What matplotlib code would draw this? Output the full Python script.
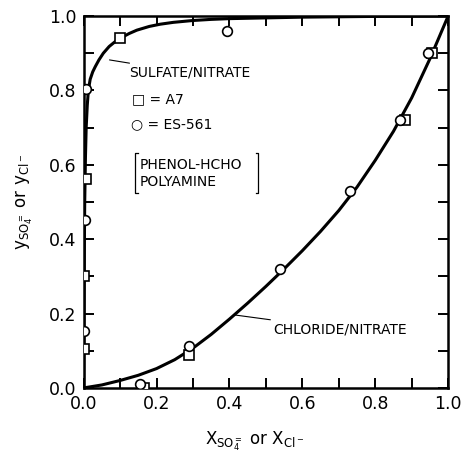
import matplotlib
matplotlib.use("Agg")
import matplotlib.pyplot as plt
from matplotlib.ticker import MultipleLocator

# --- data ---
# Sulfate/nitrate fitted curve
sulf_curve_x = [0.0, 0.001, 0.002, 0.003, 0.005, 0.007, 0.010, 0.013, 0.018, 0.025, 0.032, 0.042, 0.054, 0.07, 0.085, 0.10, 0.125, 0.146, 0.18, 0.21, 0.246, 0.30, 0.35, 0.40, 0.5, 0.6, 0.7, 0.8, 0.9, 1.0]
sulf_curve_y = [0.0, 0.20, 0.38, 0.50, 0.62, 0.70, 0.76, 0.80, 0.83, 0.85, 0.864, 0.882, 0.90, 0.918, 0.93, 0.94, 0.953, 0.962, 0.972, 0.978, 0.983, 0.988, 0.991, 0.993, 0.995, 0.997, 0.998, 0.999, 0.9995, 1.0]
# Chloride/nitrate fitted curve
chl_curve_x = [0.0, 0.05, 0.1, 0.15, 0.2, 0.25, 0.3, 0.35, 0.4, 0.45, 0.5, 0.55, 0.6, 0.65, 0.7, 0.75, 0.8, 0.85, 0.9, 0.95, 1.0]
chl_curve_y = [0.0, 0.008, 0.020, 0.034, 0.052, 0.076, 0.107, 0.144, 0.185, 0.228, 0.273, 0.320, 0.369, 0.421, 0.477, 0.540, 0.612, 0.690, 0.780, 0.885, 1.0]

# A7 (squares)
a7_x = [0.006, 0.002, 0.001, 0.100, 0.166, 0.29, 0.882, 0.955]
a7_y = [0.561, 0.30, 0.105, 0.94, 0.0, 0.089, 0.72, 0.90]
# ES-561 (circles)
es_x = [0.006, 0.004, 0.0, 0.393, 0.155, 0.288, 0.539, 0.731, 0.869, 0.944]
es_y = [0.803, 0.452, 0.154, 0.96, 0.01, 0.113, 0.32, 0.53, 0.72, 0.90]

x_ticks = [0.0, 0.2, 0.4, 0.6, 0.8, 1.0]
y_ticks = [0.0, 0.2, 0.4, 0.6, 0.8, 1.0]
x_ticklabels = ["0.0", "0.2", "0.4", "0.6", "0.8", "1.0"]
y_ticklabels = ["0.0", "0.2", "0.4", "0.6", "0.8", "1.0"]

plt.rcParams['font.family'] = ['DejaVu Sans']
plt.rcParams['mathtext.fontset'] = 'dejavusans'

fig = plt.figure(figsize=(4.62, 4.58), dpi=100)
ax = fig.add_axes([0.181, 0.153, 0.789, 0.812])

ax.plot(sulf_curve_x, sulf_curve_y, color='black', lw=2.2, zorder=2)
ax.plot(chl_curve_x, chl_curve_y, color='black', lw=2.2, zorder=2)
ax.plot(a7_x, a7_y, ls='none', marker='s', ms=6.5, mfc='white', mec='black', mew=1.2, zorder=3)
ax.plot(es_x, es_y, ls='none', marker='o', ms=7, mfc='white', mec='black', mew=1.2, zorder=3)

ax.set_xlim(0, 1.0)
ax.set_ylim(0, 1.0)
ax.set_xticks(x_ticks)
ax.set_xticklabels(x_ticklabels)
ax.set_yticks(y_ticks)
ax.set_yticklabels(y_ticklabels)
ax.xaxis.set_minor_locator(MultipleLocator(0.1))
ax.yaxis.set_minor_locator(MultipleLocator(0.1))
ax.tick_params(which='both', direction='in', top=True, right=True, length=7, width=1.4,
               labelsize=12.5, pad=5)
for s in ax.spines.values():
    s.set_linewidth(1.8)

ax.set_xlabel(r"$\mathregular{X_{SO_4^=}}$ or $\mathregular{X_{Cl^-}}$", fontsize=12)
ax.xaxis.set_label_coords(0.468, -0.112)
ax.set_ylabel(r"$\mathregular{y_{SO_4^=}}$ or $\mathregular{y_{Cl^-}}$", fontsize=12, labelpad=10)

fs = 10
ax.annotate("SULFATE/NITRATE", xy=(0.071, 0.882), xytext=(0.125, 0.847),
            fontsize=fs, va='center', ha='left',
            arrowprops=dict(arrowstyle='-', color='black', lw=0.8, shrinkA=0, shrinkB=0))
ax.text(0.132, 0.776, "\u25a1 = A7", fontsize=fs, va='center', ha='left')
ax.text(0.130, 0.708, "\u25cb = ES-561", fontsize=fs, va='center', ha='left')
ax.text(0.155, 0.577, "PHENOL-HCHO\nPOLYAMINE", fontsize=fs, va='center', ha='left', linespacing=1.25)
# brackets
ax.plot([0.148, 0.141, 0.141, 0.148], [0.632, 0.632, 0.524, 0.524], color='black', lw=0.9)
ax.plot([0.472, 0.479, 0.479, 0.472], [0.632, 0.632, 0.524, 0.524], color='black', lw=0.9)

ax.annotate("CHLORIDE/NITRATE", xy=(0.416, 0.196), xytext=(0.52, 0.158),
            fontsize=fs, va='center', ha='left',
            arrowprops=dict(arrowstyle='-', color='black', lw=0.8, shrinkA=0, shrinkB=0))

fig.savefig("out.png", dpi=100)
